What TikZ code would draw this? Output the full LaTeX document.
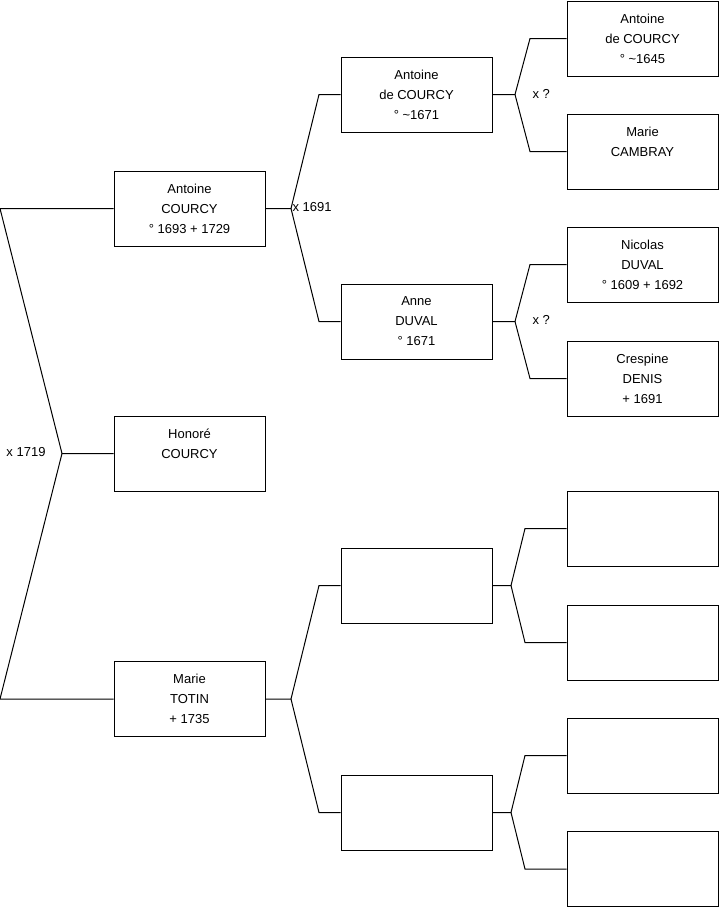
\documentclass[tikz,border=0pt]{standalone}
\usepackage{fontspec}
\setmainfont{Liberation Sans}
\begin{document}
\begin{tikzpicture}[x=1pt, y=-1pt, line width=1pt,
	    every node/.style={inner sep=3pt},
	    person/.style={draw, minimum width=151pt, minimum height=75pt,
	      align=center, font={\fontsize{13}{20}\selectfont}},
	    union/.style={inner sep=1pt, font={\fontsize{13}{16}\selectfont}}]
	    \useasboundingbox (0,0) rectangle (719,908);
	    \node[person] (antoine) at (189.5,208.5) {Antoine\\COURCY\\° 1693 + 1729};
	    \node[person] (honore) at (189.5,453.5) {Honoré\\COURCY\\\mbox{}};
	    \node[person] (marie) at (189.5,699) {Marie\\TOTIN\\+ 1735};
	    \node[person] (antoineP) at (416.5,94.5) {Antoine\\de COURCY\\° \textasciitilde1671};
	    \node[person] (anne) at (416.5,321.5) {Anne\\DUVAL\\° 1671};
	    \node[person] (totinF) at (416.5,585.5) {};
	    \node[person] (totinM) at (416.5,812.5) {};
	    \node[person] (antoineGP) at (642.5,38.5) {Antoine\\de COURCY\\° \textasciitilde1645};
	    \node[person] (cambray) at (642.5,151.5) {Marie\\CAMBRAY\\\mbox{}};
	    \node[person] (nicolas) at (642.5,264.5) {Nicolas\\DUVAL\\° 1609 + 1692};
	    \node[person] (crespine) at (642.5,378.5) {Crespine\\DENIS\\+ 1691};
	    \node[person] (totinFF) at (642.5,528.5) {};
	    \node[person] (totinFM) at (642.5,642.5) {};
	    \node[person] (totinMF) at (642.5,755.5) {};
	    \node[person] (totinMM) at (642.5,869) {};
	    \coordinate (top) at (0,208.5);
	    \coordinate (bottom) at (0,699);
	    \coordinate (x0) at (62,453.5);
	    \coordinate (x1) at (291,208.5);
	    \coordinate (x2) at (291,699);
	    \coordinate (x3) at (515,94.5);
	    \coordinate (x4) at (515,321.5);
	    \coordinate (x5) at (511,585.5);
	    \coordinate (x6) at (511,812.5);
	    \node[union, anchor=east] (u0) at (47,452) {x 1719};
	    \node[union, anchor=west] (u1) at (291,207.5) {x 1691};
	    \node[union, anchor=west] (u3) at (531,93.5) {x ?};
	    \node[union, anchor=west] (u4) at (531,320) {x ?};
	    \draw (antoine.west) -- (top) -- (x0) -- (honore.west);
	    \draw (marie.west) -- (bottom) -- (x0);
	    \draw (antoine.east) -- (x1) -- (319,94.5) -- (antoineP.west);
	    \draw (x1) -- (319,321.5) -- (anne.west);
	    \draw (marie.east) -- (x2) -- (319,585.5) -- (totinF.west);
	    \draw (x2) -- (319,812.5) -- (totinM.west);
	    \draw (antoineP.east) -- (x3) -- (530,38.5) -- (antoineGP.west);
	    \draw (x3) -- (530,151.5) -- (cambray.west);
	    \draw (anne.east) -- (x4) -- (530,264.5) -- (nicolas.west);
	    \draw (x4) -- (530,378.5) -- (crespine.west);
	    \draw (totinF.east) -- (x5) -- (525,528.5) -- (totinFF.west);
	    \draw (x5) -- (525,642.5) -- (totinFM.west);
	    \draw (totinM.east) -- (x6) -- (525,755.5) -- (totinMF.west);
	    \draw (x6) -- (525,869) -- (totinMM.west);
	  \end{tikzpicture}
\end{document}
